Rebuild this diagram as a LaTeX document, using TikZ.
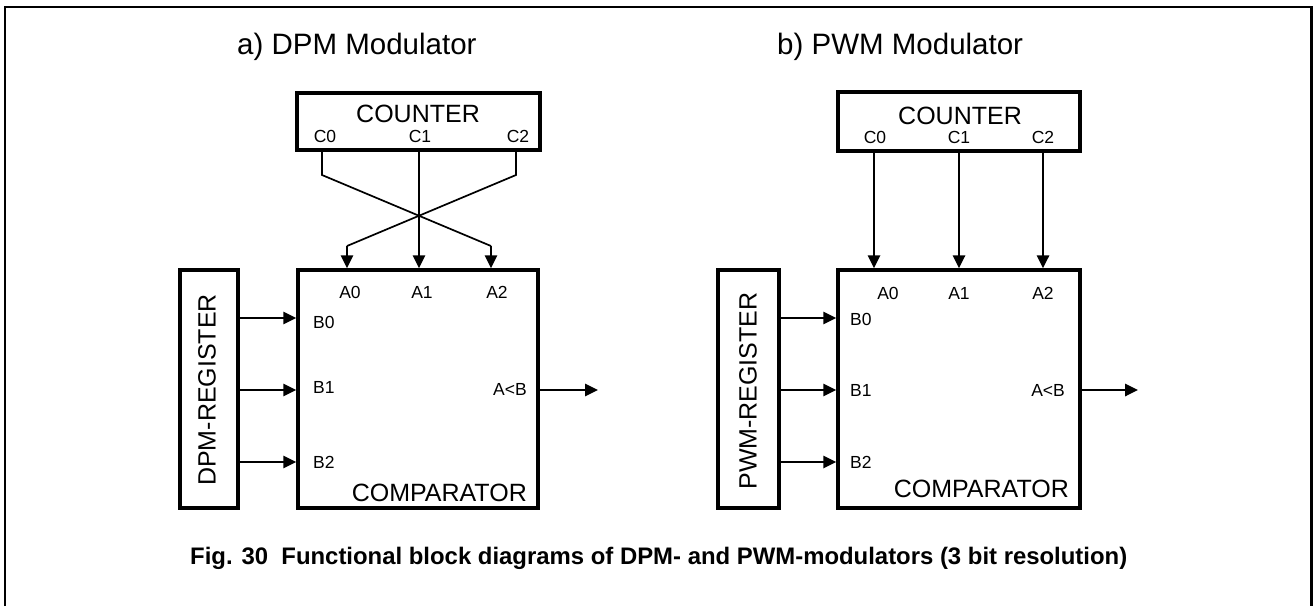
\documentclass[tikz,border=0pt]{standalone}
\usepackage{fontspec}
\setmainfont{Liberation Sans}
\usetikzlibrary{arrows.meta}
\begin{document}
\begin{tikzpicture}[x=1pt,y=-1pt,
  box/.style={draw, line width=3.5pt, inner sep=0pt},
  conn/.style={line width=1.7pt},
  arr/.style={conn, -{Triangle[length=13pt,width=12.5pt]}},
  lbl/.style={inner sep=0pt, font=\fontsize{17.5}{20}\selectfont},
  big/.style={inner sep=0pt, font=\fontsize{25}{30}\selectfont},
  ttl/.style={inner sep=0pt, font=\fontsize{29.5}{34}\selectfont},
  captext/.style={inner sep=0pt, font=\bfseries\fontsize{23.9}{28}\selectfont}]
\useasboundingbox (0,0) rectangle (1313,606);
% frame
\draw[line width=2.6pt] (5,606) -- (5,7) -- (1311.5,7) -- (1311.5,606);
% titles
\node[ttl, anchor=base west] (ttlA) at (237,54) {a) DPM Modulator};
\node[ttl, anchor=base west] (ttlB) at (777,54) {b) PWM Modulator};
% ================= a) DPM =================
\node[box, minimum width=243pt, minimum height=57pt] (cntA) at (418.5,121.5) {};
\node[big, anchor=base] (cntAt) at (418,122) {COUNTER};
\node[lbl, anchor=base] (c0A) at (325,142) {C0};
\node[lbl, anchor=base] (c1A) at (420,142) {C1};
\node[lbl, anchor=base] (c2A) at (518,142) {C2};
\node[box, minimum width=240pt, minimum height=238pt] (cmpA) at (418,389) {};
\node[box, minimum width=58pt, minimum height=238pt] (regA) at (209,389) {};
\node[big, rotate=90] (regAt) at (207,390) {DPM-REGISTER};
\node[big, anchor=base east] (cmpAt) at (527,501) {COMPARATOR};
\node[lbl] (a0A) at (350,292) {A0};
\node[lbl] (a1A) at (422,292) {A1};
\node[lbl] (a2A) at (497,292) {A2};
\node[lbl, anchor=west] (b0A) at (313,322) {B0};
\node[lbl, anchor=west] (b1A) at (313,387) {B1};
\node[lbl, anchor=west] (b2A) at (313,462) {B2};
\node[lbl, anchor=east] (ltA) at (527,389) {A<B};
\coordinate (outA) at (598,390);
\draw[conn] (cntA.south -| 322,0) -- (322,175) -- (491,246) coordinate (kA0);
\draw[arr] (kA0) -- (cmpA.north -| kA0);
\draw[arr] (cntA.south -| 419,0) -- (cmpA.north -| 419,0);
\draw[conn] (cntA.south -| 516,0) -- (516,175) -- (347,246) coordinate (kA2);
\draw[arr] (kA2) -- (cmpA.north -| kA2);
\foreach \yy in {318,390,462}
  \draw[arr] (regA.east |- 0,\yy) -- (cmpA.west |- 0,\yy);
\draw[arr] (cmpA.east |- outA) -- (outA);
% ================= b) PWM =================
\node[box, minimum width=242pt, minimum height=59pt] (cntB) at (959,121.5) {};
\node[big, anchor=base] (cntBt) at (960,124.5) {COUNTER};
\node[lbl, anchor=base] (c0B) at (875,143) {C0};
\node[lbl, anchor=base] (c1B) at (959,143) {C1};
\node[lbl, anchor=base] (c2B) at (1043,143) {C2};
\node[box, minimum width=242pt, minimum height=238pt] (cmpB) at (959,389) {};
\node[box, minimum width=61pt, minimum height=238pt] (regB) at (748.5,389) {};
\node[big, rotate=90] (regBt) at (748,391) {PWM-REGISTER};
\node[big, anchor=base east] (cmpBt) at (1069,497) {COMPARATOR};
\node[lbl] (a0B) at (888,293) {A0};
\node[lbl] (a1B) at (959,293) {A1};
\node[lbl] (a2B) at (1043,293) {A2};
\node[lbl, anchor=west] (b0B) at (850,319) {B0};
\node[lbl, anchor=west] (b1B) at (850,390) {B1};
\node[lbl, anchor=west] (b2B) at (850,462) {B2};
\node[lbl, anchor=east] (ltB) at (1065,390) {A<B};
\coordinate (outB) at (1138,390);
\foreach \xx in {874,959,1043}
  \draw[arr] (cntB.south -| \xx,0) -- (cmpB.north -| \xx,0);
\foreach \yy in {318,390,462}
  \draw[arr] (regB.east |- 0,\yy) -- (cmpB.west |- 0,\yy);
\draw[arr] (cmpB.east |- outB) -- (outB);
% caption
\node[captext, anchor=base west] (capt) at (190,564) {Fig. 30\ \ Functional block diagrams of DPM- and PWM-modulators (3 bit resolution)};
\end{tikzpicture}
\end{document}
